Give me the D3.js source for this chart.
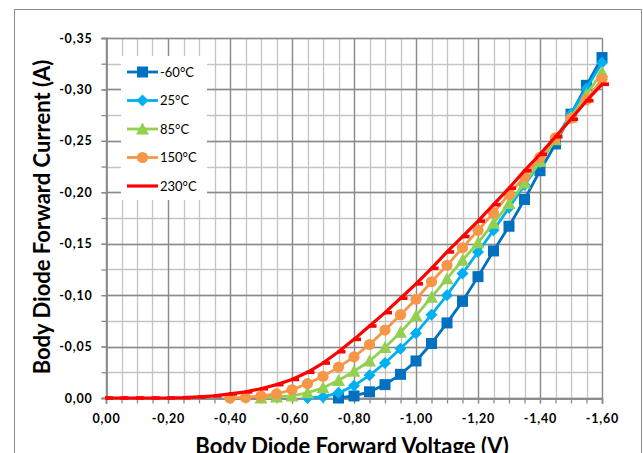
<!DOCTYPE html>
<html>
<head>
<meta charset="utf-8">
<script src="https://cdn.jsdelivr.net/npm/d3@7"></script>
<style>
  html, body { margin: 0; padding: 0; background: #fff; }
</style>
</head>
<body>
<script>
// forward voltage (V), one point every 0.05 V
var volts = [0, -0.05, -0.10, -0.15, -0.20, -0.25, -0.30, -0.35, -0.40, -0.45, -0.50, -0.55, -0.60, -0.65, -0.70, -0.75, -0.80,
             -0.85, -0.90, -0.95, -1.00, -1.05, -1.10, -1.15, -1.20, -1.25, -1.30, -1.35, -1.40, -1.45, -1.50, -1.55, -1.60];
// forward current (A) per temperature, null where the curve has no point
var curMinus60 = [null, null, null, null, null, null, null, null, null, null, null, null, null, null, null, 0, -0.002,
                  -0.006, -0.013, -0.023, -0.036, -0.053, -0.073, -0.094, -0.118, -0.143, -0.167, -0.193, -0.221, -0.247, -0.276, -0.304, -0.331];
var cur25 = [null, null, null, null, null, null, null, null, null, null, null, null, null, 0, -0.001, -0.005, -0.012,
             -0.022, -0.034, -0.048, -0.063, -0.081, -0.100, -0.121, -0.142, -0.163, -0.185, -0.207, -0.229, -0.252, -0.276, -0.301, -0.326];
var cur85 = [null, null, null, null, null, null, null, null, null, null, 0, -0.001, -0.002, -0.005, -0.010, -0.017, -0.026,
             -0.036, -0.049, -0.064, -0.080, -0.098, -0.116, -0.134, -0.151, -0.170, -0.189, -0.209, -0.230, -0.251, -0.273, -0.295, -0.317];
var cur150 = [null, null, null, null, null, null, null, null, 0, -0.0005, -0.002, -0.004, -0.008, -0.014, -0.021, -0.030, -0.040,
              -0.052, -0.066, -0.081, -0.096, -0.113, -0.129, -0.146, -0.163, -0.180, -0.198, -0.215, -0.234, -0.253, -0.272, -0.290, -0.310];
var cur230 = [0, 0, 0, 0, 0, -0.0003, -0.001, -0.002, -0.004, -0.006, -0.009, -0.013, -0.018, -0.025, -0.034, -0.045, -0.057,
              -0.070, -0.083, -0.097, -0.111, -0.126, -0.142, -0.157, -0.172, -0.188, -0.204, -0.221, -0.237, -0.254, -0.271, -0.289, -0.305];
var seriesNames = ['-60°C', '25°C', '85°C', '150°C', '230°C'];
var seriesColors = ['#0070C0', '#00B0F0', '#92D050', '#F79646', '#FF0000'];
var seriesMarkers = ['square', 'diamond', 'triangle', 'circle', 'dash'];
var xTicks = [0, -0.2, -0.4, -0.6, -0.8, -1.0, -1.2, -1.4, -1.6];
var yTicks = [0, -0.05, -0.10, -0.15, -0.20, -0.25, -0.30, -0.35];

var width = 643, height = 453;
var plot = { left: 106, right: 602, top: 38, bottom: 398 };
var fontFamily = 'Lato, "Open Sans", sans-serif';

var svg = d3.select('body')
            .append('svg')
            .attr('width', width)
            .attr('height', height)
            .style('display', 'block');

// outer chart border (runs off the bottom of the picture)
svg.append('rect')
   .attr('x', 14.5).attr('y', 9.5)
   .attr('width', 627).attr('height', 460)
   .attr('fill', '#fff')
   .attr('stroke', '#8c8c8c')
   .attr('stroke-width', 1);

// axes are reversed: 0 at left / bottom, negative values go right / up
var xScale = d3.scaleLinear().domain([0, -1.6]).range([plot.left, plot.right]);
var yScale = d3.scaleLinear().domain([0, -0.35]).range([plot.bottom, plot.top]);

var locale = d3.formatLocale({ decimal: ',', thousands: '.', grouping: [3], currency: ['', ''], minus: '-' });
var fmt = locale.format('.2f');

// gridlines: minor first, majors on top
var xMinor = d3.range(0, 33).map(function (i) { return -i * 0.05; });
var yMinor = d3.range(0, 15).map(function (i) { return -i * 0.025; });
var grid = svg.append('g');
grid.selectAll('line.xminor').data(xMinor).enter().append('line')
    .attr('x1', function (d) { return Math.round(xScale(d)) + 0.5; })
    .attr('x2', function (d) { return Math.round(xScale(d)) + 0.5; })
    .attr('y1', plot.top).attr('y2', plot.bottom)
    .attr('stroke', '#c4c4c4').attr('stroke-width', 1.3);
grid.selectAll('line.yminor').data(yMinor).enter().append('line')
    .attr('y1', function (d) { return Math.round(yScale(d)) + 0.5; })
    .attr('y2', function (d) { return Math.round(yScale(d)) + 0.5; })
    .attr('x1', plot.left).attr('x2', plot.right)
    .attr('stroke', '#c4c4c4').attr('stroke-width', 1.3);
grid.selectAll('line.xmajor').data(xTicks).enter().append('line')
    .attr('x1', function (d) { return Math.round(xScale(d)) + 0.5; })
    .attr('x2', function (d) { return Math.round(xScale(d)) + 0.5; })
    .attr('y1', plot.top).attr('y2', plot.bottom)
    .attr('stroke', '#8a8a8a').attr('stroke-width', 1.3);
grid.selectAll('line.ymajor').data(yTicks).enter().append('line')
    .attr('y1', function (d) { return Math.round(yScale(d)) + 0.5; })
    .attr('y2', function (d) { return Math.round(yScale(d)) + 0.5; })
    .attr('x1', plot.left).attr('x2', plot.right)
    .attr('stroke', '#8a8a8a').attr('stroke-width', 1.3);

// axes with minor ticks outside, labels only on the majors
var xAxisMinor = d3.axisBottom(xScale).tickValues(xMinor).tickSize(5).tickFormat('');
var yAxisMinor = d3.axisLeft(yScale).tickValues(yMinor).tickSize(5).tickFormat('');
var xAxis = d3.axisBottom(xScale).tickValues(xTicks).tickSize(5).tickPadding(11).tickFormat(fmt);
var yAxis = d3.axisLeft(yScale).tickValues(yTicks).tickSize(5).tickPadding(9).tickFormat(fmt);

function styleAxis(g) {
  g.selectAll('.domain').attr('stroke', '#8a8a8a').attr('stroke-width', 1.3);
  g.selectAll('.tick line').attr('stroke', '#8a8a8a').attr('stroke-width', 1.3);
  g.selectAll('.tick text')
   .attr('fill', '#000')
   .style('font-family', fontFamily)
   .style('font-weight', 'bold')
   .style('font-size', '12.5px')
   .style('letter-spacing', '0.8px');
}
svg.append('g').attr('transform', 'translate(0,' + (plot.bottom + 0.5) + ')').call(xAxisMinor).call(styleAxis);
svg.append('g').attr('transform', 'translate(' + (plot.left + 0.5) + ',0)').call(yAxisMinor).call(styleAxis);
svg.append('g').attr('transform', 'translate(0,' + (plot.bottom + 0.5) + ')').call(xAxis).call(styleAxis);
svg.append('g').attr('transform', 'translate(' + (plot.left + 0.5) + ',0)').call(yAxis).call(styleAxis);

// axis titles (the x title is cut by the bottom edge, as in the original)
svg.append('text')
   .attr('x', 352).attr('y', 454)
   .attr('text-anchor', 'middle')
   .style('font-family', fontFamily).style('font-weight', 'bold').style('font-size', '22px')
   .text('Body Diode Forward Voltage (V)');
svg.append('text')
   .attr('transform', 'translate(50,217) rotate(-90)')
   .attr('text-anchor', 'middle')
   .style('font-family', fontFamily).style('font-weight', 'bold').style('font-size', '22px')
   .text('Body Diode Forward Current (A)');

// marker drawing shared by the plot and the legend
function drawMarker(g, type, color) {
  if (type === 'square') {
    g.append('rect').attr('x', -5.5).attr('y', -5.5).attr('width', 11).attr('height', 11).attr('fill', color);
  } else if (type === 'diamond') {
    g.append('path').attr('d', 'M0,-6L6,0L0,6L-6,0Z').attr('fill', color);
  } else if (type === 'triangle') {
    g.append('path').attr('d', 'M0,-6.5L6.5,5.5L-6.5,5.5Z').attr('fill', color);
  } else if (type === 'circle') {
    g.append('circle').attr('r', 5.6).attr('fill', color);
  } else if (type === 'dash') {
    g.append('rect').attr('x', -1).attr('y', -1.8).attr('width', 8).attr('height', 3.6).attr('fill', color);
  }
}

var allSeries = [curMinus60, cur25, cur85, cur150, cur230];
var line = d3.line()
             .defined(function (d) { return d.i !== null; })
             .x(function (d) { return xScale(d.v); })
             .y(function (d) { return yScale(d.i); });

allSeries.forEach(function (values, k) {
  var pts = volts.map(function (v, j) { return { v: v, i: values[j] }; });
  var g = svg.append('g');
  g.append('path').datum(pts)
   .attr('d', line)
   .attr('fill', 'none')
   .attr('stroke', seriesColors[k])
   .attr('stroke-width', k === 4 ? 3.2 : 2.8)
   .attr('stroke-linejoin', 'round');
  pts.filter(function (d) { return d.i !== null; }).forEach(function (d) {
    var m = g.append('g').attr('transform', 'translate(' + xScale(d.v) + ',' + yScale(d.i) + ')');
    drawMarker(m, seriesMarkers[k], seriesColors[k]);
  });
});

// legend on a white box over the grid
var legend = svg.append('g');
legend.append('rect')
      .attr('x', 121).attr('y', 56).attr('width', 86).attr('height', 144)
      .attr('fill', '#fff');
seriesNames.forEach(function (name, k) {
  var y = 72 + k * 28.5;
  var item = legend.append('g').attr('transform', 'translate(0,' + y + ')');
  item.append('line')
      .attr('x1', 127).attr('x2', 158)
      .attr('stroke', seriesColors[k]).attr('stroke-width', k === 4 ? 3.2 : 2.8);
  var m = item.append('g').attr('transform', 'translate(142.5,0)');
  if (k < 4) drawMarker(m, seriesMarkers[k], seriesColors[k]);
  item.append('text')
      .attr('x', 160).attr('y', 4.5)
      .style('font-family', fontFamily).style('font-size', '13px')
      .text(name);
});
</script>
</body>
</html>
